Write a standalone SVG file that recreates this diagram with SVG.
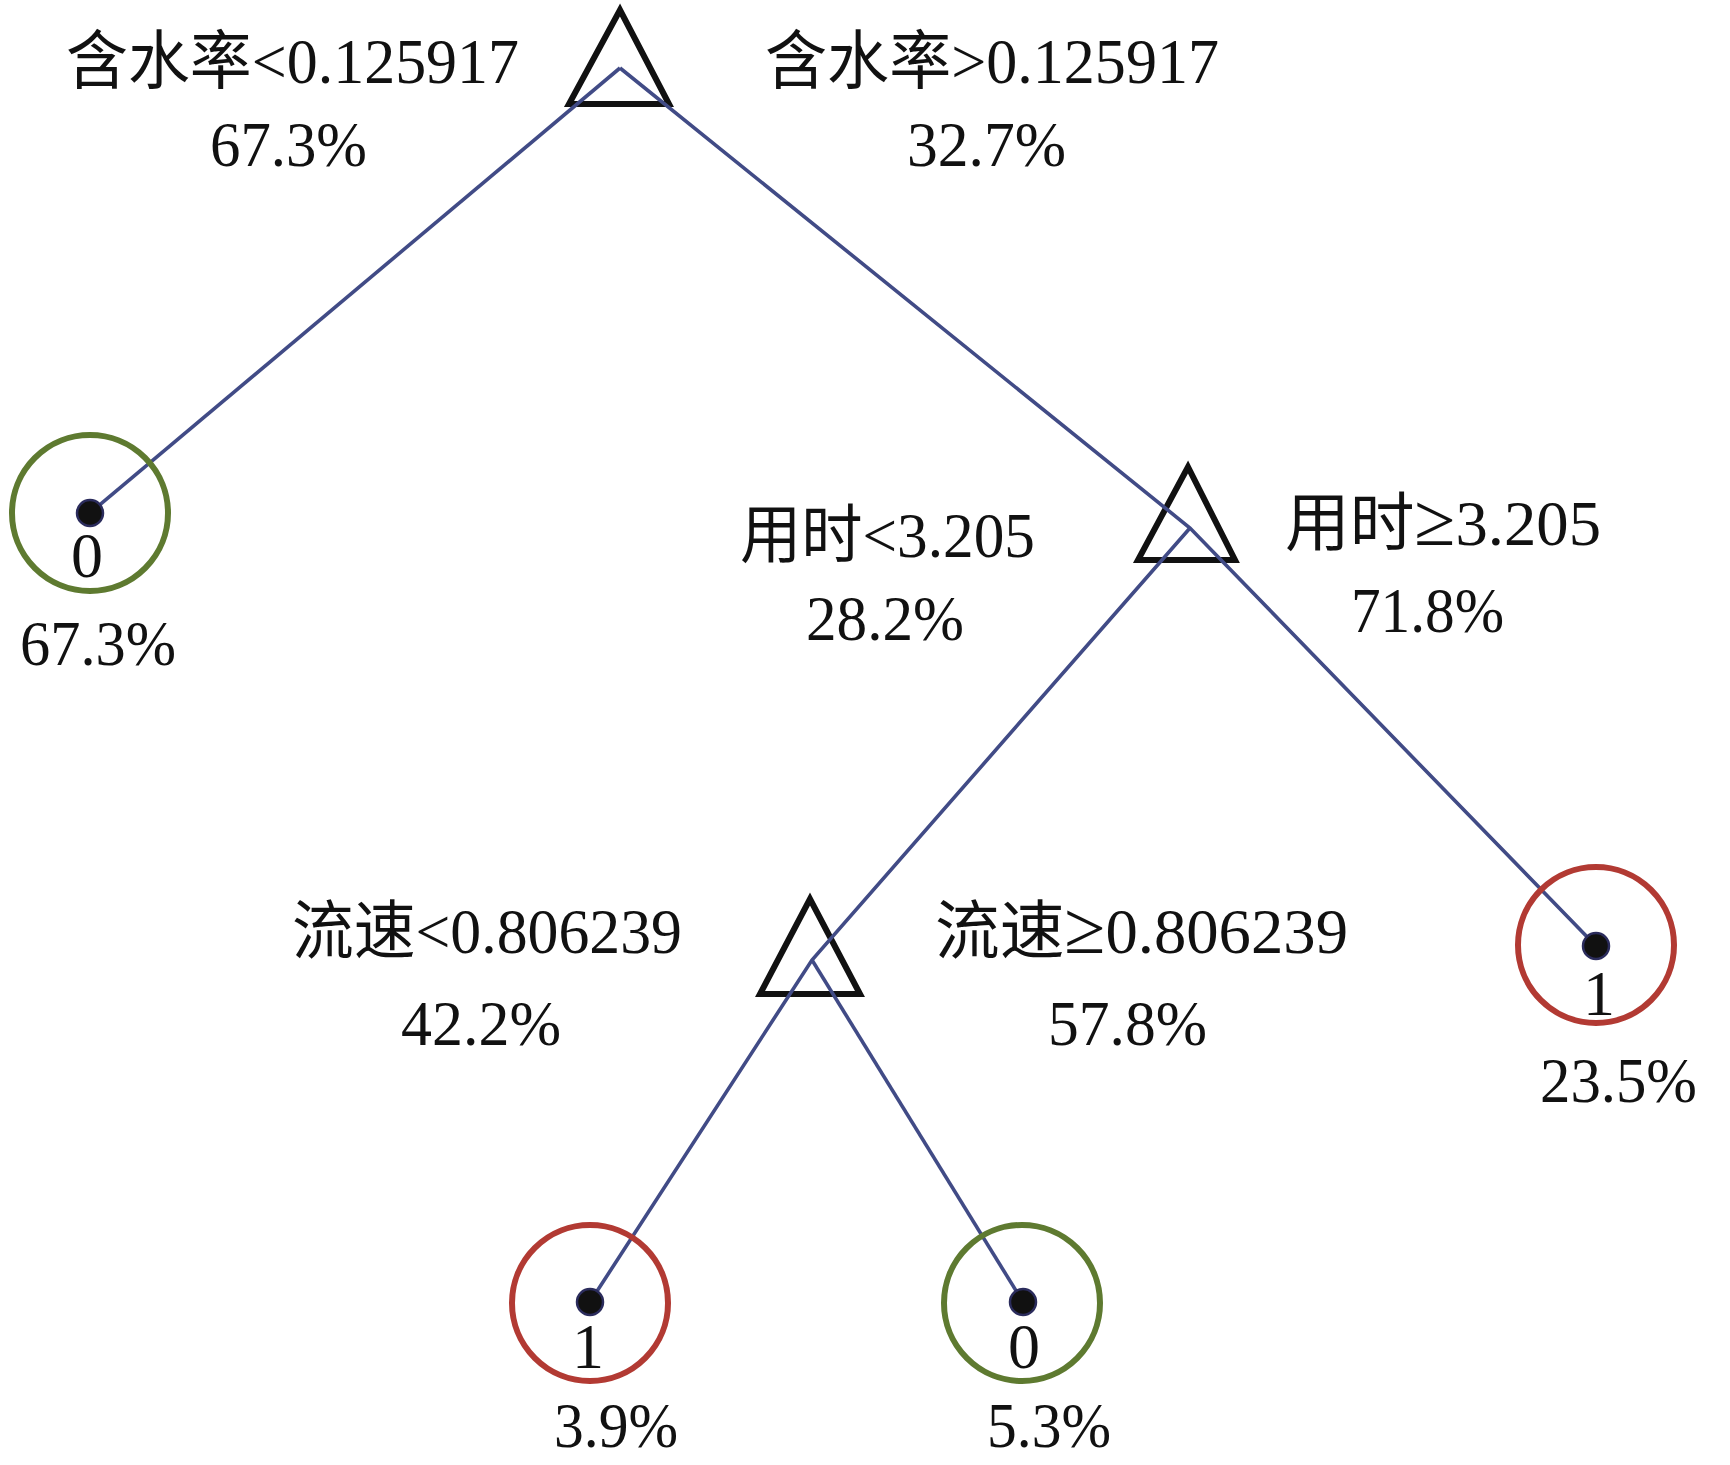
<svg xmlns="http://www.w3.org/2000/svg" width="1730" height="1465" viewBox="0 0 1730 1465">
<style>
text{font-family:"Liberation Serif","Noto Sans CJK SC",serif;font-size:64px;fill:#111}
.ge{font-size:74px}
.tri{fill:none;stroke:#111;stroke-width:6;stroke-linejoin:miter}
.edge{fill:none;stroke:#414b86;stroke-width:3.6}
.leaf0{fill:none;stroke:#5e7a30;stroke-width:6}
.leaf1{fill:none;stroke:#b23a33;stroke-width:6}
.dot{fill:#111;stroke:#2b2c5c;stroke-width:2.5}
.m{text-anchor:middle}
</style>
<rect width="1730" height="1465" fill="#fff"/>
<g id="root">
<polygon class="tri" points="620,10 569,104 669,104"/>
<text x="66" y="83" textLength="453" lengthAdjust="spacingAndGlyphs">含水率&lt;0.125917</text>
<text x="210" y="166" textLength="157" lengthAdjust="spacingAndGlyphs">67.3%</text>
<text x="765" y="83" textLength="454" lengthAdjust="spacingAndGlyphs">含水率&gt;0.125917</text>
<text x="907" y="166" textLength="159" lengthAdjust="spacingAndGlyphs">32.7%</text>
</g>
<g id="split-time">
<polygon class="tri" points="1188,467 1138,560 1235,560"/>
<text x="740" y="557" textLength="295" lengthAdjust="spacingAndGlyphs">用时&lt;3.205</text>
<text x="806" y="640" textLength="158" lengthAdjust="spacingAndGlyphs">28.2%</text>
<text x="1285" y="545" textLength="316" lengthAdjust="spacingAndGlyphs">用时<tspan class="ge">≥</tspan>3.205</text>
<text x="1351" y="632" textLength="153" lengthAdjust="spacingAndGlyphs">71.8%</text>
</g>
<g id="split-speed">
<polygon class="tri" points="810,899 760,994 860,994"/>
<text x="292" y="953" textLength="390" lengthAdjust="spacingAndGlyphs">流速&lt;0.806239</text>
<text x="401" y="1045" textLength="160" lengthAdjust="spacingAndGlyphs">42.2%</text>
<text x="935" y="953" textLength="413" lengthAdjust="spacingAndGlyphs">流速<tspan class="ge">≥</tspan>0.806239</text>
<text x="1048" y="1045" textLength="159" lengthAdjust="spacingAndGlyphs">57.8%</text>
</g>
<g id="connectors">
<polyline class="edge" points="620,68 90,513"/>
<polyline class="edge" points="620,68 1190,528 1596,946"/>
<polyline class="edge" points="1190,528 812,960 590,1302"/>
<polyline class="edge" points="812,960 1023,1302"/>
</g>
<g id="leaf-a">
<circle class="leaf0" cx="90" cy="513" r="78"/>
<circle class="dot" cx="90" cy="513" r="13"/>
<text class="m" x="87" y="577">0</text>
<text x="20" y="665" textLength="156" lengthAdjust="spacingAndGlyphs">67.3%</text>
</g>
<g id="leaf-b">
<circle class="leaf1" cx="1596" cy="945" r="78"/>
<circle class="dot" cx="1596" cy="946" r="13"/>
<text class="m" x="1599" y="1015">1</text>
<text x="1540" y="1102" textLength="157" lengthAdjust="spacingAndGlyphs">23.5%</text>
</g>
<g id="leaf-c">
<circle class="leaf1" cx="590" cy="1303" r="78"/>
<circle class="dot" cx="590" cy="1302" r="13"/>
<text class="m" x="588" y="1368">1</text>
<text x="554" y="1447" textLength="124" lengthAdjust="spacingAndGlyphs">3.9%</text>
</g>
<g id="leaf-d">
<circle class="leaf0" cx="1022" cy="1303" r="78"/>
<circle class="dot" cx="1023" cy="1302" r="13"/>
<text class="m" x="1024" y="1368">0</text>
<text x="987" y="1447" textLength="124" lengthAdjust="spacingAndGlyphs">5.3%</text>
</g>
</svg>
